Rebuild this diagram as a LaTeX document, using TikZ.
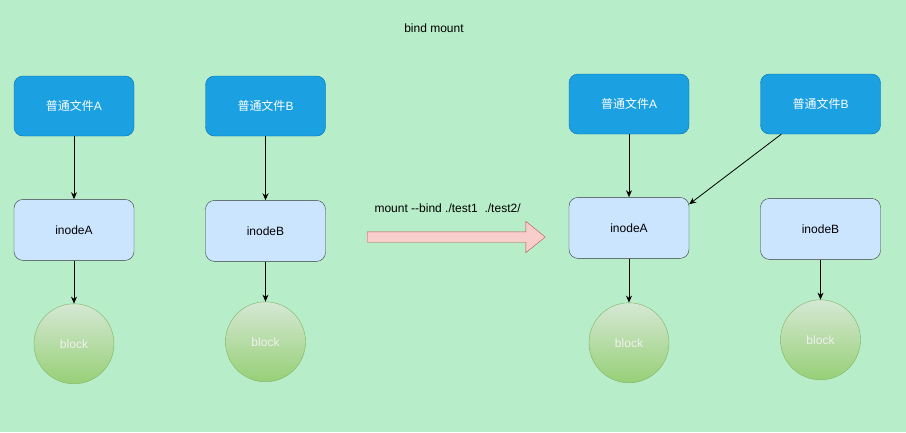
\documentclass[tikz,border=0pt]{standalone}
\usepackage{fontspec}
\setmainfont{Liberation Sans}
\newfontfamily\cjk{Noto Sans CJK SC}
\usepackage{tikz}
\usetikzlibrary{arrows.meta, positioning, shapes.arrows}

\definecolor{bgcol}{HTML}{B7EDC8}
\definecolor{filefill}{HTML}{1BA1E2}
\definecolor{fileline}{HTML}{006EAF}
\definecolor{inodefill}{HTML}{CCE5FF}
\definecolor{inodeline}{HTML}{36393D}
\definecolor{blocktop}{HTML}{D5E8D4}
\definecolor{blockbot}{HTML}{97D077}
\definecolor{blockline}{HTML}{82B366}
\definecolor{arrowfill}{HTML}{F8CECC}
\definecolor{arrowline}{HTML}{B85450}

\begin{document}
\begin{tikzpicture}[x=1pt, y=-1pt,
    filebox/.style={rectangle, rounded corners=9pt, draw=fileline, fill=filefill, text=white, minimum width=120pt, minimum height=60pt, font=\fontsize{12}{14}\selectfont},
    inodebox/.style={rectangle, rounded corners=9pt, draw=inodeline, fill=inodefill, minimum width=120pt, minimum height=61pt, font=\fontsize{12}{14}\selectfont},
    blockdisk/.style={circle, draw=blockline, top color=blocktop, bottom color=blockbot, text=white!94!black, minimum size=80pt, inner sep=0pt, font=\fontsize{12}{14}\selectfont},
    link/.style={-{Stealth[length=7pt, width=6pt]}, thick, black},
    mountarrow/.style={single arrow, draw=arrowline, fill=arrowfill, minimum height=178pt, single arrow head extend=10.5pt, single arrow tip angle=78, single arrow head indent=0pt, inner xsep=0pt, inner ysep=5pt}
]
\fill[bgcol] (0,0) rectangle (906,432);
\useasboundingbox (0,0) rectangle (906,432);

\node[font=\fontsize{12}{14}\selectfont] (title) at (434,28) {bind mount};

% before
\node[filebox] at (74,106) (fileA1) {{\cjk 普通文件}A};
\node[inodebox, below=63pt of fileA1] (inodeA1) {inodeA};
\node[blockdisk, below=43pt of inodeA1] (blockA1) {block};

\node[filebox] at (265.5,106) (fileB1) {{\cjk 普通文件}B};
\node[inodebox, below=64pt of fileB1] (inodeB1) {inodeB};
\node[blockdisk, below=40pt of inodeB1] (blockB1) {block};

\draw[link] (fileA1) -- (inodeA1);
\draw[link] (inodeA1) -- (blockA1);
\draw[link] (fileB1) -- (inodeB1);
\draw[link] (inodeB1) -- (blockB1);

% mount command
\node[font=\fontsize{12}{14}\selectfont, anchor=west] at (371,208) (cmd) {mount {-}{-}bind ./test1\ \ ./test2/};
\node[mountarrow] at (453,237) (mount) {};

% after
\node[filebox] at (629,104) (fileA2) {{\cjk 普通文件}A};
\node[inodebox, below=63pt of fileA2] (inodeA2) {inodeA};
\node[blockdisk, below=44pt of inodeA2] (blockA2) {block};

\node[filebox] at (820.5,104) (fileB2) {{\cjk 普通文件}B};
\node[inodebox, below=64pt of fileB2] (inodeB2) {inodeB};
\node[blockdisk, below=40pt of inodeB2] (blockB2) {block};

\draw[link] (fileA2) -- (inodeA2);
\draw[link] (inodeA2) -- (blockA2);
\draw[link] (inodeB2) -- (blockB2);
\draw[link] ([xshift=21pt]fileB2.south west) -- ([yshift=-7pt]inodeA2.north east);
\end{tikzpicture}
\end{document}
